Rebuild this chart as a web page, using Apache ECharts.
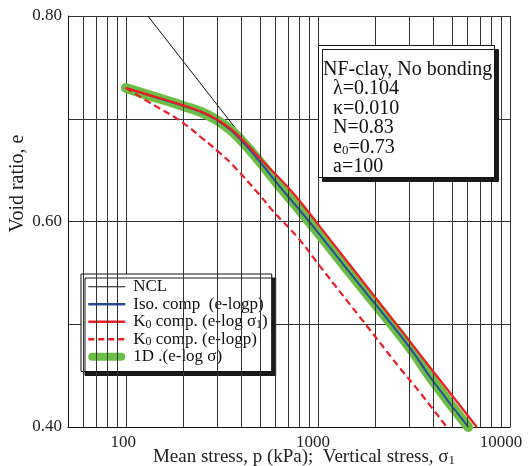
<!DOCTYPE html>
<html>
<head>
<meta charset="utf-8">
<script src="https://cdn.jsdelivr.net/npm/echarts@6/dist/echarts.min.js"></script>
<style>html,body{margin:0;padding:0;background:#fff}#c{width:532px;height:466px}</style>
</head>
<body>
<div id="c"></div>
<script>
// ---- data ----
const nclP = [130.3, 6080];
const nclE = [0.800, 0.400];

const isoP = [100, 131, 195, 268, 341, 408, 499, 634, 805, 1024, 1527, 2279, 3015, 3984, 6065];
const isoE = [0.730, 0.723, 0.713, 0.7035, 0.691, 0.677, 0.658, 0.634, 0.611, 0.587, 0.546, 0.506, 0.477, 0.4445, 0.400];

const k0S1P = [100, 130, 195, 268, 341, 408, 530, 700, 878, 1024, 2674, 3985, 6714];
const k0S1E = [0.730, 0.7235, 0.7135, 0.704, 0.692, 0.679, 0.6565, 0.633, 0.611, 0.595, 0.4955, 0.454, 0.400];

const k0PP = [100, 131, 195, 248, 303, 362, 499, 585, 788, 1024, 1655, 2674, 3397, 4680];
const k0PE = [0.730, 0.7165, 0.697, 0.6815, 0.668, 0.6545, 0.6255, 0.610, 0.584, 0.5565, 0.507, 0.4573, 0.4336, 0.400];

const oneDP = [100, 131, 195, 268, 341, 408, 499, 634, 805, 1024, 1527, 2279, 3015, 3984, 6065];
const oneDE = [0.730, 0.723, 0.713, 0.7035, 0.691, 0.677, 0.658, 0.634, 0.611, 0.587, 0.546, 0.506, 0.477, 0.4445, 0.400];

const xTickLabels = [100, 1000, 10000];
const yTickLabels = ['0.80', '0.60', '0.40'];
const xMinorGrid = [60, 70, 80, 90, 200, 300, 400, 500, 600, 700, 800, 900,
                    2000, 3000, 4000, 5000, 6000, 7000, 8000, 9000];

const seriesNames = ['NCL', 'Iso. comp  (e-logp)', 'K0 comp. (e-log σ1)', 'K0 comp. (e-logp)', '1D .(e-log σ)'];
const infoLines = ['NF-clay, No bonding', '  λ=0.104', '  κ=0.010', '  N=0.83', '  e{sub|0}=0.73', '  a=100'];

// ---- build ----
const zip = (a, b) => a.map((v, i) => [v, b[i]]);
const FONT = '"Liberation Serif", "Times New Roman", serif';
const GRIDC = '#333';
const hideSym = {opacity: 0};

const chart = echarts.init(document.getElementById('c'), null, {renderer: 'canvas'});
chart.setOption({
  backgroundColor: '#fff',
  animation: false,
  grid: {left: 68, right: 22, top: 16, bottom: 39, containLabel: false, outerBoundsMode: 'none'},
  title: {
    text: infoLines.join('\n'),
    left: 318, top: 46,
    padding: [14, 3, 1, 5],
    backgroundColor: '#fff',
    borderColor: '#111', borderWidth: 1,
    shadowColor: '#1a1a1a', shadowBlur: 0, shadowOffsetX: 4, shadowOffsetY: 4,
    textStyle: {
      fontFamily: FONT, fontSize: 20, fontWeight: 'normal', color: '#111', lineHeight: 19.4,
      rich: {sub: {fontFamily: FONT, fontSize: 13, color: '#111', verticalAlign: 'bottom', lineHeight: 10}}
    }
  },
  legend: {
    orient: 'vertical',
    left: 81, top: 274,
    padding: [4, 4, 6, 6],
    itemGap: 0, itemWidth: 37, itemHeight: 9,
    backgroundColor: '#fff',
    borderColor: '#111', borderWidth: 1,
    shadowColor: '#1a1a1a', shadowBlur: 0, shadowOffsetX: 4, shadowOffsetY: 4,
    formatter: n => n.replace('K0', 'K{sub|0}').replace('σ1', 'σ{sub|1}'),
    textStyle: {
      fontFamily: FONT, fontSize: 17, color: '#111', lineHeight: 17.5, padding: [0, 0, 0, 3],
      rich: {sub: {fontFamily: FONT, fontSize: 12, color: '#111', verticalAlign: 'bottom', lineHeight: 9}}
    },
    data: [
      {name: seriesNames[0], lineStyle: {width: 1}, itemStyle: hideSym},
      {name: seriesNames[1], lineStyle: {width: 2.5}, itemStyle: hideSym},
      {name: seriesNames[2], lineStyle: {width: 2.5}, itemStyle: hideSym},
      {name: seriesNames[3], lineStyle: {width: 2.5, type: [6, 4]}, itemStyle: hideSym},
      {name: seriesNames[4], icon: 'path://M4.5,0L37.5,0A4.5,4.5,0,0,1,37.5,9L4.5,9A4.5,4.5,0,0,1,4.5,0Z', itemStyle: {opacity: 1}}
    ]
  },
  xAxis: {
    type: 'log', logBase: 10, min: 50, max: 10000,
    axisLine: {show: true, lineStyle: {color: '#111', width: 1}},
    axisTick: {show: false},
    splitLine: {show: true, lineStyle: {color: GRIDC, width: 1}},
    axisLabel: {
      margin: 7, fontFamily: FONT, fontSize: 17, color: '#222',
      formatter: v => {
        const r = Math.round(v);
        if (!xTickLabels.includes(r)) return '';
        const k = xTickLabels.indexOf(r);
        return '{t' + k + '|' + r + '}';
      },
      rich: {
        t0: {fontFamily: FONT, fontSize: 17, color: '#222', padding: [0, 5, 0, 0]},
        t1: {fontFamily: FONT, fontSize: 17, color: '#222', padding: [0, 10, 0, 0]},
        t2: {fontFamily: FONT, fontSize: 17, color: '#222', padding: [0, 18, 0, 0]}
      }
    },
    name: 'Mean stress, p (kPa);  Vertical stress, σ{sub|1}',
    nameLocation: 'middle', nameGap: 20, nameMoveOverlap: false,
    nameTextStyle: {
      fontFamily: FONT, fontSize: 19, color: '#222', lineHeight: 20, padding: [0, 0, 0, 30],
      rich: {sub: {fontFamily: FONT, fontSize: 13, color: '#222', verticalAlign: 'bottom', lineHeight: 9}}
    }
  },
  yAxis: {
    type: 'value', min: 0.4, max: 0.8, interval: 0.1,
    axisLine: {show: true, lineStyle: {color: '#111', width: 1}},
    axisTick: {show: false},
    splitLine: {show: true, lineStyle: {color: GRIDC, width: 1}},
    axisLabel: {
      margin: 6, fontFamily: FONT, fontSize: 17, color: '#222',
      formatter: v => { const s = v.toFixed(2); return yTickLabels.includes(s) ? s : ''; }
    },
    name: 'Void ratio, e',
    nameLocation: 'middle', nameGap: 40, nameMoveOverlap: false,
    nameTextStyle: {fontFamily: FONT, fontSize: 20, color: '#222', lineHeight: 20, padding: [0, 0, 0, 76]}
  },
  series: [
    {
      name: seriesNames[0], type: 'line', data: zip(nclP, nclE), showSymbol: false, symbol: 'none',
      color: '#111', lineStyle: {color: '#111', width: 1}, z: 2,
      markLine: {
        silent: true, symbol: 'none', label: {show: false},
        lineStyle: {color: GRIDC, width: 1, type: 'solid'},
        data: xMinorGrid.map(v => ({xAxis: v}))
      }
    },
    {
      name: seriesNames[4], type: 'line', data: zip(oneDP, oneDE), showSymbol: false, symbol: 'none',
      smooth: 0.5, clip: false,
      color: '#6cbd45', lineStyle: {color: '#6cbd45', width: 10, cap: 'round', join: 'round'}, z: 3
    },
    {
      name: seriesNames[1], type: 'line', data: zip(isoP, isoE), showSymbol: false, symbol: 'none',
      smooth: 0.5,
      color: '#2b4c9b', lineStyle: {color: '#2b4c9b', width: 2}, z: 4
    },
    {
      name: seriesNames[2], type: 'line', data: zip(k0S1P, k0S1E), showSymbol: false, symbol: 'none',
      smooth: 0.5,
      color: '#ee1d23', lineStyle: {color: '#ee1d23', width: 2.2}, z: 5
    },
    {
      name: seriesNames[3], type: 'line', data: zip(k0PP, k0PE), showSymbol: false, symbol: 'none',
      smooth: 0.5,
      color: '#ee1d23', lineStyle: {color: '#ee1d23', width: 2.2, type: [7, 4]}, z: 5
    }
  ]
});
</script>
</body>
</html>
